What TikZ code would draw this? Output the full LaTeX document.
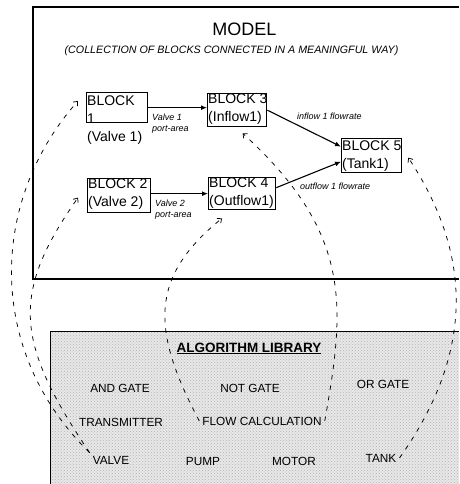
\documentclass[tikz,border=0pt]{standalone}
\usepackage{fontspec}
\setmainfont{Liberation Sans}
\usetikzlibrary{arrows.meta,patterns}
\begin{document}
\begin{tikzpicture}[x=1pt,y=-1pt,
  frame/.style={line width=1.2pt},
  blk/.style={draw, line width=1.3pt, inner sep=0pt, anchor=north west},
  blktxt/.style={font=\fontsize{14}{18}\selectfont, align=left, inner sep=0.5pt, anchor=north west},
  flowarr/.style={line width=1.1pt, -{Latex[length=6pt,width=5pt]}},
  lbl/.style={font=\fontsize{9}{11}\selectfont\itshape, align=left, inner sep=0pt, anchor=north west},
  libtxt/.style={font=\fontsize{11.8}{14}\selectfont, inner sep=3pt, anchor=base},
  link/.style={dash pattern=on 4.5pt off 6pt, line width=0.75pt, -{Straight Barb[length=3.5pt,width=6pt]}}
]
\useasboundingbox (0,0) rectangle (459,484);
% algorithm library background
\fill[black!9] (50,331) rectangle (459,484);
\fill[pattern=crosshatch dots, pattern color=black!30] (50,331) rectangle (459,484);
\draw[line width=1pt] (50,484) -- (50,331) -- (459,331);
% model frame
\draw[frame] (459,7) -- (33,7) -- (33,279) -- (459,279);
% titles
\node[font=\fontsize{18}{20}\selectfont, anchor=base] (title) at (244.5,36) {MODEL};
\node[font=\fontsize{10.7}{12}\selectfont\itshape, anchor=base] (sub) at (231.5,54) {(COLLECTION OF BLOCKS CONNECTED IN A MEANINGFUL WAY)};
% blocks
\node[blk, minimum width=61pt, minimum height=30pt] (b1) at (86,92) {};
\node[blk, minimum width=59pt, minimum height=33pt] (b3) at (207,93) {};
\node[blk, minimum width=60pt, minimum height=34pt] (b5) at (341,138) {};
\node[blk, minimum width=63pt, minimum height=34pt] (b2) at (87,178) {};
\node[blk, minimum width=67pt, minimum height=32pt] (b4) at (208,177) {};
\node[blktxt] (t1) at (86.5,95) {BLOCK\\1\\(Valve 1)};
\node[blktxt] (t3) at (207.5,93.5) {BLOCK 3\\(Inflow1)};
\node[blktxt] (t5) at (341.5,140) {BLOCK 5\\(Tank1)};
\node[blktxt] (t2) at (87.5,178.5) {BLOCK 2\\(Valve 2)};
\node[blktxt] (t4) at (208.5,177.5) {BLOCK 4\\(Outflow1)};
% solid connectors
\draw[flowarr] (b1.east) -- (b1.east -| b3.west);
\draw[flowarr] (b4.west -| b2.east) -- (b4.west);
\draw[flowarr] (b3.east) -- ([yshift=9pt]b5.west);
\draw[flowarr] ([yshift=6pt]b4.east) -- ([yshift=-6pt]b5.west);
% connector labels
\node[lbl] (l1) at (152,114) {Valve 1\\port-area};
\node[lbl] (l2) at (155,200) {Valve 2\\port-area};
\node[lbl, anchor=base west] (l3) at (297,120) {inflow 1 flowrate};
\node[lbl, anchor=base west] (l4) at (300,189) {outflow 1 flowrate};
% library contents
\node[font=\fontsize{13.5}{15}\selectfont\bfseries, anchor=base] (libt) at (249,352) {\underline{ALGORITHM LIBRARY}};
\node[libtxt] (andg) at (120,392) {AND GATE};
\node[libtxt] (notg) at (250,392) {NOT GATE};
\node[libtxt] (org) at (383,388) {OR GATE};
\node[libtxt] (trans) at (121,426) {TRANSMITTER};
\node[libtxt] (flow) at (262,425) {FLOW CALCULATION};
\node[libtxt] (valve) at (111,464) {VALVE};
\node[libtxt] (pump) at (203,465) {PUMP};
\node[libtxt] (motor) at (294,465) {MOTOR};
\node[libtxt] (tank) at (381,462) {TANK};
% dashed links from library to blocks
\draw[link] (valve.north west) .. controls (-15,350) and (-10,200) .. ([shift={(-8,9)}]b1.north west);
\draw[link] (valve.north west) .. controls (15,342) and (10.5,294) .. ([shift={(-9,2)}]b2.west);
\draw[link] (flow.west) .. controls (150,328) and (150.5,276.5) .. ([shift={(14,8)}]b4.south west);
\draw[link] (flow.east) .. controls (345,307) and (353,234) .. ([shift={(5.5,6)}]b3.south);
\draw[link] (tank.east) .. controls (476,350) and (471,253) .. ([shift={(6,2)}]b5.east);
\end{tikzpicture}
\end{document}
